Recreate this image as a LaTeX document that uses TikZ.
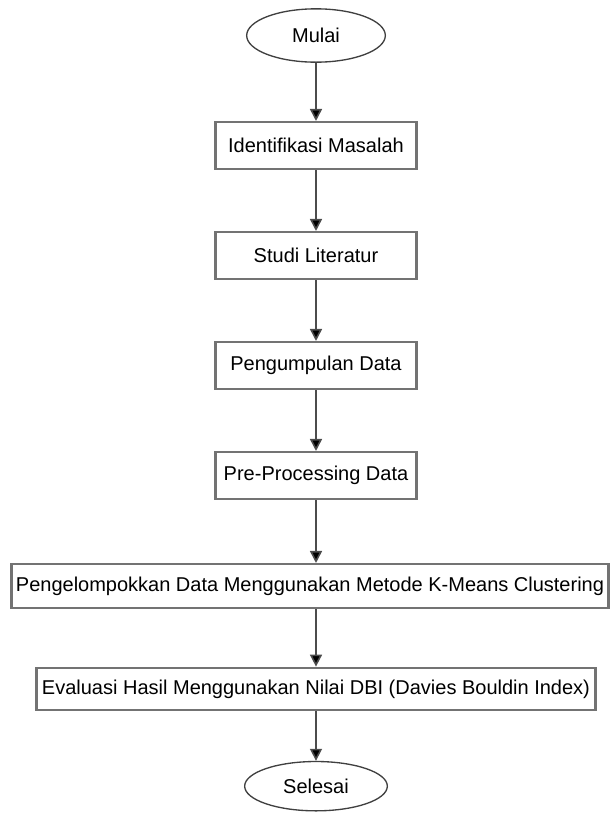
\documentclass[tikz,border=0pt]{standalone}
\usepackage{fontspec}
\setmainfont{Liberation Sans}
\usetikzlibrary{positioning,shapes.geometric,arrows.meta}

\begin{document}
\begin{tikzpicture}[x=0.75pt,y=0.75pt,node distance=82.5pt,
  >={Triangle[length=9pt,width=9pt,fill=black]},
  proses/.style={rectangle,draw=black!55,line width=1.8pt,minimum width=151pt,minimum height=35pt,font=\fontsize{15}{17}\selectfont},
  terminal/.style={ellipse,draw=black!75,line width=1pt,minimum width=104pt,minimum height=40pt,font=\fontsize{15}{17}\selectfont},
  alur/.style={->,draw=black!70,line width=1.2pt}]
\useasboundingbox (0,0) rectangle (610,-818);
\fill node[terminal] (1-1) at (316,-35.5) {Mulai};
\fill node[proses, below of=1-1] (1-2) {Identifikasi Masalah};
\fill node[proses, below of=1-2] (1-3) {Studi Literatur};
\fill node[proses, below of=1-3] (1-4) {Pengumpulan Data};
\fill node[proses, below of=1-4] (1-5) {Pre-Processing Data};
\fill node[proses, minimum width=448pt, minimum height=33pt, inner xsep=2pt, below of=1-5, node distance=83pt, xshift=-4.5pt] (1-6) {Pengelompokkan Data Menggunakan Metode K-Means Clustering};
\fill node[proses, minimum width=419pt, minimum height=31.5pt, below of=1-5, node distance=160pt] (1-7) {Evaluasi Hasil Menggunakan Nilai DBI (Davies Bouldin Index)};
\fill node[terminal, minimum width=107pt, minimum height=37pt, below of=1-7, node distance=73pt] (1-8) {Selesai};

\draw[alur] (1-1) to (1-2);
\draw[alur] (1-2) to (1-3);
\draw[alur] (1-3) to (1-4);
\draw[alur] (1-4) to (1-5);
\draw[alur] (1-5) to (1-5 |- 1-6.north);
\draw[alur] (1-5 |- 1-6.south) to (1-7);
\draw[alur] (1-7) to (1-8);
\end{tikzpicture}
\end{document}
